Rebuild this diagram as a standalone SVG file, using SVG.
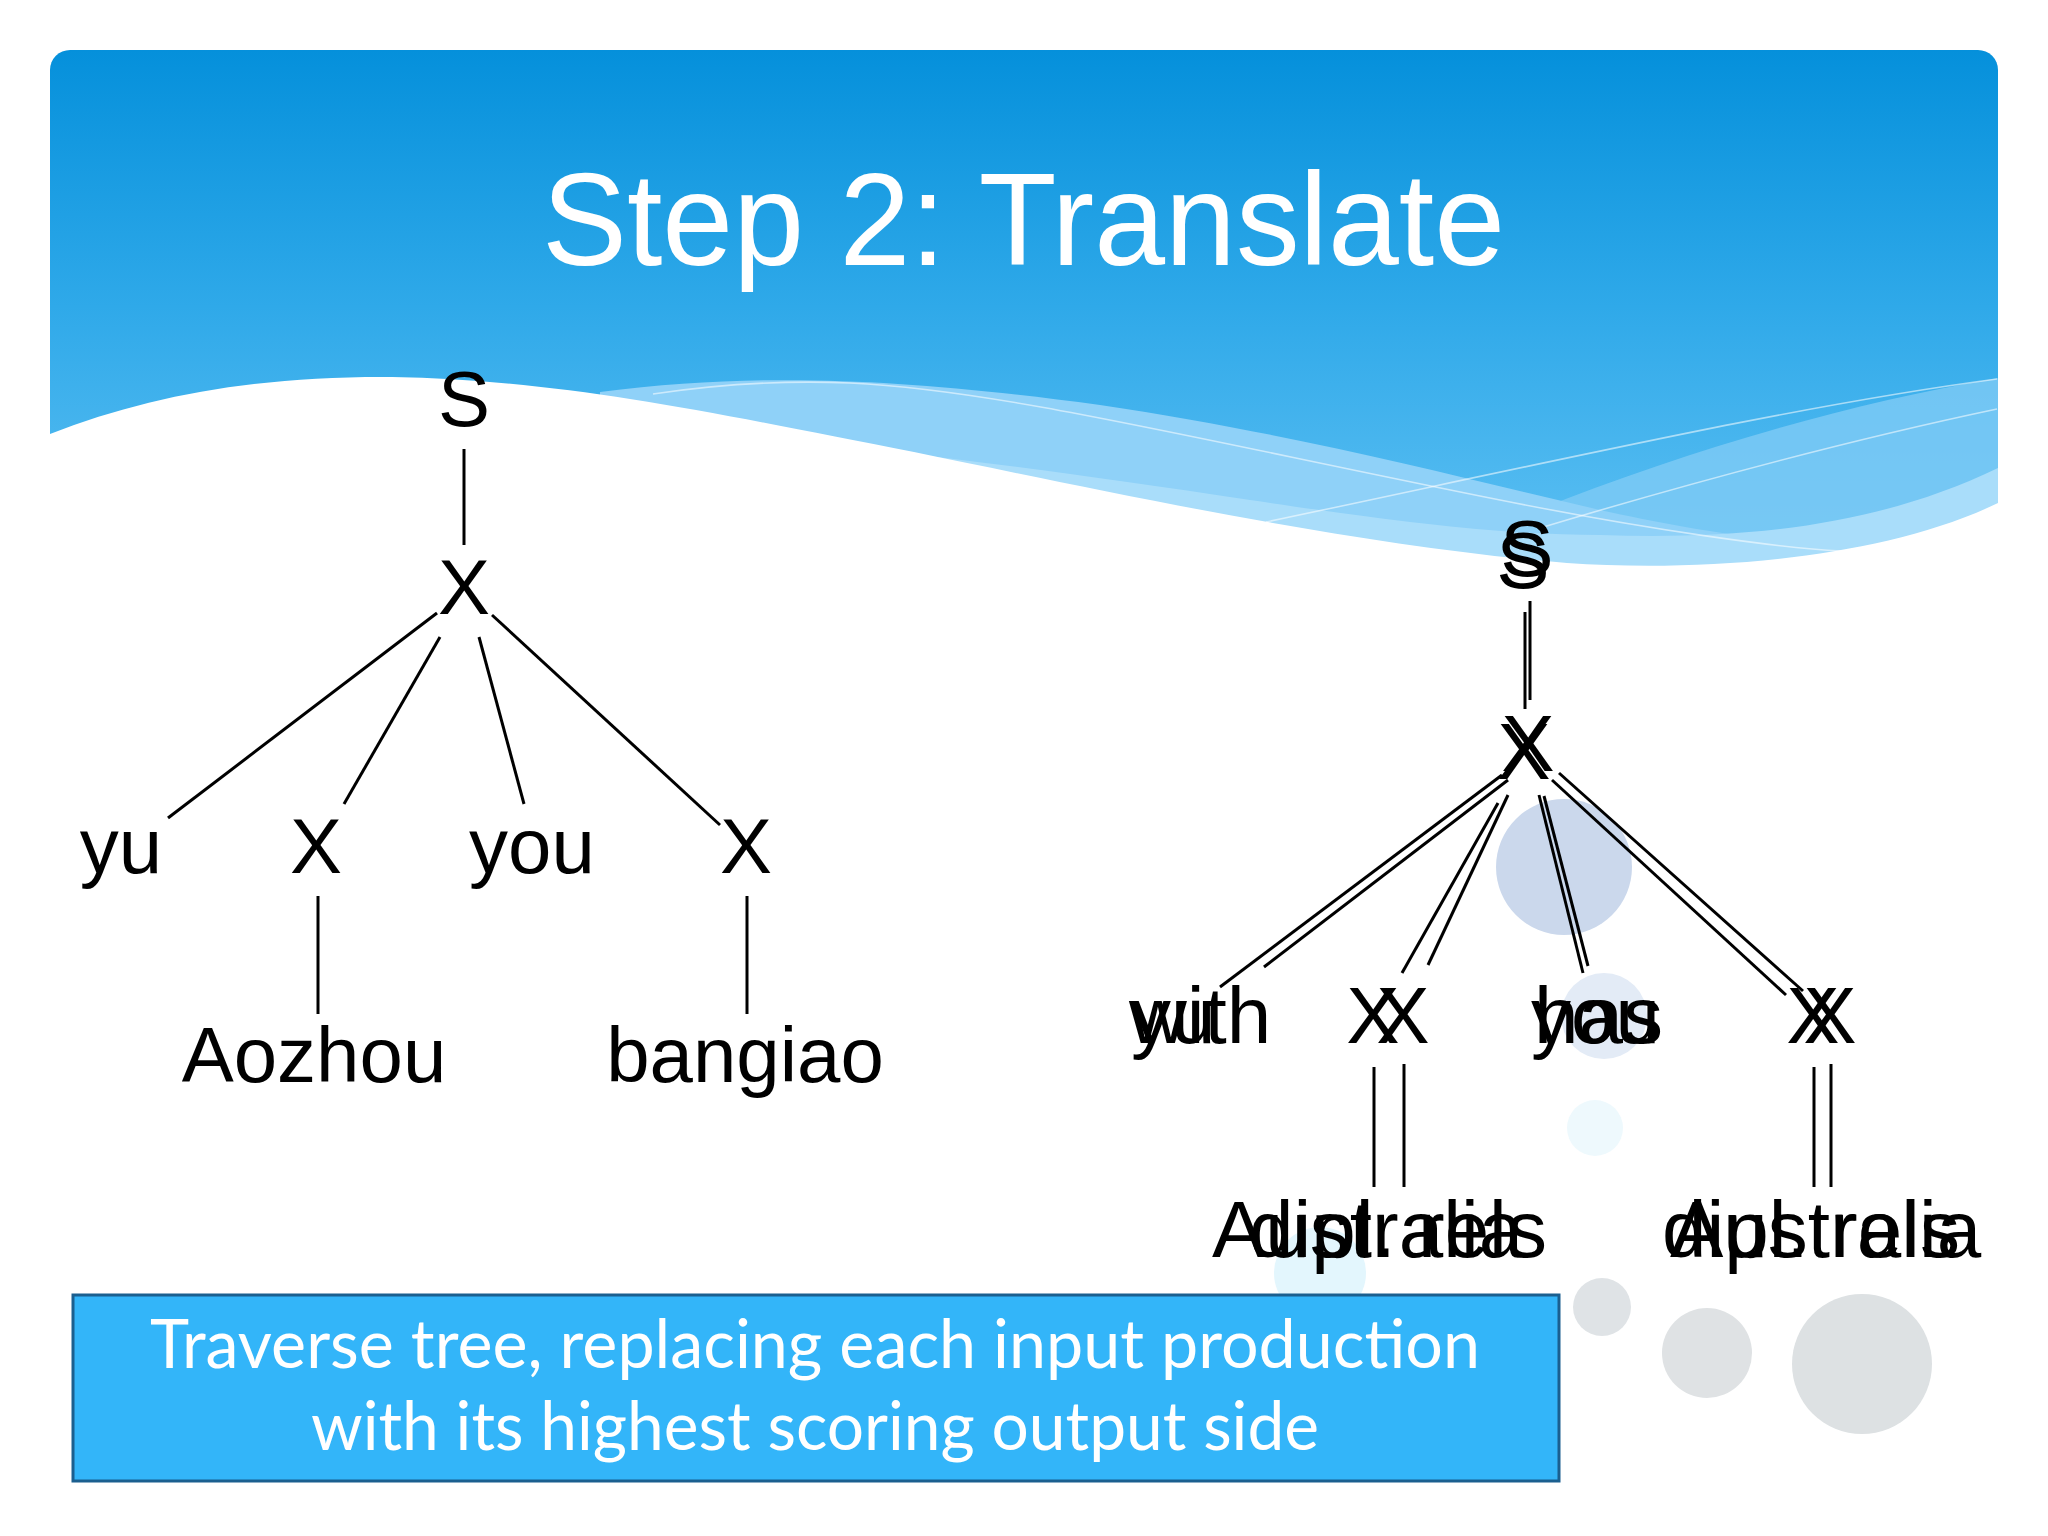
<svg xmlns="http://www.w3.org/2000/svg" width="2048" height="1536" viewBox="0 0 2048 1536">
<defs>
<linearGradient id="hdr" x1="0" y1="0" x2="0" y2="1" gradientUnits="objectBoundingBox">
<stop offset="0" stop-color="#0590db"/>
<stop offset="0.45" stop-color="#2fa9e9"/>
<stop offset="1" stop-color="#68c5f5"/>
</linearGradient>
<style>
.t{font-family:"Liberation Sans",Arial,sans-serif;fill:#000;}
.l{font-size:78px;}
.r{font-size:80px;}
.c{text-anchor:middle;}
.e{stroke:#000;stroke-width:3;fill:none;stroke-linecap:butt;}
.wl{stroke:#ffffff;stroke-opacity:0.55;stroke-width:1.6;fill:none;}
</style>
</defs>
<rect x="0" y="0" width="2048" height="1536" fill="#ffffff"/>
<g id="background">
<rect x="50" y="50" width="1948" height="570" rx="20" fill="url(#hdr)"/>
<path d="M1998 378 C1800 412 1600 478 1420 560 L1998 620 Z" fill="#7ecbf5" opacity="0.8"/>
<path d="M600 392 C760 372 900 378 1100 405 C1300 435 1450 475 1600 510 C1700 532 1800 548 1998 560 L1998 620 L600 620 Z" fill="#8fd1f8"/>
<path d="M760 440 C900 450 1050 470 1250 500 C1400 522 1500 535 1600 535 C1750 540 1880 525 1998 468 L1998 620 L760 620 Z" fill="#a9ddfa"/>
<path class="wl" d="M653 394 C720 384 780 380 850 383 C1000 390 1200 440 1500 500 C1650 530 1780 548 1841 551"/>
<path class="wl" d="M1997 379 C1800 405 1560 460 1266 522"/>
<path class="wl" d="M1997 409 C1850 440 1700 480 1540 528"/>
<path d="M50 434 C150 395 260 376 392 377 C560 380 700 410 914 452 C1100 490 1350 545 1567 563 C1700 572 1880 560 1998 503 L1998 640 L50 640 Z" fill="#ffffff"/>
<circle cx="1564" cy="867" r="68" fill="#cbd8ec"/>
<circle cx="1604" cy="1016" r="43" fill="#e3ebf6"/>
<circle cx="1595" cy="1128" r="28" fill="#eef9fd"/>
<circle cx="1320" cy="1273" r="46" fill="#e3f6fd"/>
<circle cx="1602" cy="1307" r="29" fill="#dfe3e6"/>
<circle cx="1707" cy="1353" r="45" fill="#dfe2e4"/>
<circle cx="1862" cy="1364" r="70" fill="#dde1e3"/>
</g>
<g id="title">
<text x="542" y="265" font-family="Liberation Sans, Arial, sans-serif" font-size="132" fill="#ffffff" textLength="963" lengthAdjust="spacingAndGlyphs">Step 2: Translate</text>
</g>
<g id="connectors">
<line class="e" x1="464" y1="449" x2="464" y2="545"/>
<line class="e" x1="437" y1="613" x2="168" y2="818"/>
<line class="e" x1="440" y1="637" x2="344" y2="804"/>
<line class="e" x1="479" y1="637" x2="524" y2="804"/>
<line class="e" x1="492" y1="615" x2="720" y2="825"/>
<line class="e" x1="318" y1="896" x2="318" y2="1014"/>
<line class="e" x1="747" y1="896" x2="747" y2="1014"/>
<line class="e" x1="1530" y1="601" x2="1530" y2="700"/>
<line class="e" x1="1525" y1="612" x2="1525" y2="709"/>
<line class="e" x1="1502" y1="775" x2="1220" y2="987"/>
<line class="e" x1="1508" y1="780" x2="1264" y2="967"/>
<line class="e" x1="1498" y1="803" x2="1402" y2="973"/>
<line class="e" x1="1508" y1="795" x2="1428" y2="965"/>
<line class="e" x1="1539" y1="795" x2="1583" y2="973"/>
<line class="e" x1="1544" y1="796" x2="1588" y2="966"/>
<line class="e" x1="1552" y1="780" x2="1786" y2="995"/>
<line class="e" x1="1559" y1="773" x2="1803" y2="991"/>
<line class="e" x1="1374" y1="1067" x2="1374" y2="1187"/>
<line class="e" x1="1404" y1="1064" x2="1404" y2="1187"/>
<line class="e" x1="1814" y1="1067" x2="1814" y2="1187"/>
<line class="e" x1="1831" y1="1064" x2="1831" y2="1187"/>
</g>
<g id="left-S"><text class="t l c" x="464" y="426">S</text></g>
<g id="left-X"><text class="t l c" x="464" y="614">X</text></g>
<g id="left-yu"><text class="t l c" x="121" y="873">yu</text></g>
<g id="left-X1"><text class="t l c" x="316" y="873">X</text></g>
<g id="left-you"><text class="t l c" x="532" y="873">you</text></g>
<g id="left-X2"><text class="t l c" x="746" y="873">X</text></g>
<g id="left-Aozhou"><text class="t l c" x="314" y="1082">Aozhou</text></g>
<g id="left-bangiao"><text class="t l c" x="745" y="1082">bangiao</text></g>
<g id="right-S"><text class="t r c" x="1527" y="576">S</text><text class="t r c" x="1523" y="588">S</text></g>
<g id="right-X"><text class="t r c" x="1528" y="771">X</text><text class="t r c" x="1524" y="779">X</text></g>
<g id="right-yu-with"><text class="t r" x="1131" y="1043">yu</text><text class="t r" x="1129" y="1043">with</text></g>
<g id="right-X1"><text class="t r c" x="1373" y="1043">X</text><text class="t r c" x="1403" y="1043">X</text></g>
<g id="right-you-has"><text class="t r" x="1531" y="1043">you</text><text class="t r" x="1534" y="1043">has</text></g>
<g id="right-X2"><text class="t r c" x="1813" y="1043">X</text><text class="t r c" x="1830" y="1043">X</text></g>
<g id="right-leaf1"><text class="t r" x="1212" y="1257">Australia</text><text class="t r" x="1249" y="1257">dipl. rels</text></g>
<g id="right-leaf2"><text class="t r" x="1662" y="1257">dipl. rels</text><text class="t r" x="1670" y="1257">Australia</text></g>
<g id="caption">
<rect x="73" y="1295" width="1486" height="186" fill="#33b5f9" stroke="#1b5f8f" stroke-width="3"/>
<text x="815" y="1368" font-family="Lato, 'Open Sans', sans-serif" font-size="68" fill="#ffffff" text-anchor="middle" textLength="1330" lengthAdjust="spacingAndGlyphs">Traverse tree, replacing each input production</text>
<text x="815" y="1450" font-family="Lato, 'Open Sans', sans-serif" font-size="68" fill="#ffffff" text-anchor="middle" textLength="1008" lengthAdjust="spacingAndGlyphs">with its highest scoring output side</text>
</g>
</svg>
